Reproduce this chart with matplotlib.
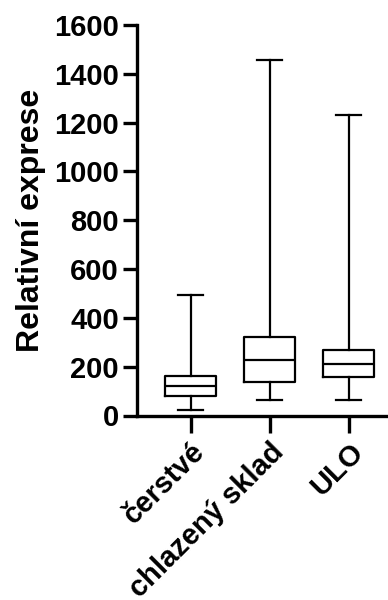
import matplotlib
matplotlib.use("Agg")
import matplotlib.pyplot as plt

categories = ["čerstvé", "chlazený sklad", "ULO"]
whislo = [21, 64, 64]
q1 = [81, 138, 159]
med = [121, 229, 211]
q3 = [162, 320, 270]
whishi = [495, 1455, 1232]
yticks = [0, 200, 400, 600, 800, 1000, 1200, 1400, 1600]

plt.rcParams['font.family'] = ['Liberation Sans', 'DejaVu Sans']
plt.rcParams['font.weight'] = 'bold'

fig = plt.figure(figsize=(3.88, 6.0), dpi=100)
ax = fig.add_axes([0.353, 0.3075, 0.66, 0.6508])

stats = []
for i, c in enumerate(categories):
    stats.append(dict(label=c, whislo=whislo[i], q1=q1[i], med=med[i],
                      q3=q3[i], whishi=whishi[i], fliers=[]))

lw = 1.6
ax.bxp(stats, positions=[1, 2, 3], widths=0.64, showfliers=False,
       boxprops=dict(color='black', linewidth=lw),
       medianprops=dict(color='black', linewidth=lw),
       whiskerprops=dict(color='black', linewidth=lw),
       capprops=dict(color='black', linewidth=lw),
       capwidths=0.32)

ax.set_xlim(0.32, 3.56)
ax.set_ylim(0, 1600)
ax.set_yticks(yticks)
ax.set_yticklabels([str(v) for v in yticks], fontsize=21, fontweight='bold')
ax.set_xticks([1, 2, 3])
ax.set_xticklabels(categories, rotation=45, ha='right', rotation_mode='anchor',
                   fontsize=21, fontweight='bold')
ax.set_ylabel("Relativní exprese", fontsize=23, fontweight='bold', labelpad=6)

for s in ['top', 'right']:
    ax.spines[s].set_visible(False)
for s in ['left', 'bottom']:
    ax.spines[s].set_linewidth(2.4)
ax.tick_params(axis='y', length=10, width=2.4, pad=3)
ax.tick_params(axis='x', length=12, width=2.4, pad=4)

fig.savefig("out.png", dpi=100)
